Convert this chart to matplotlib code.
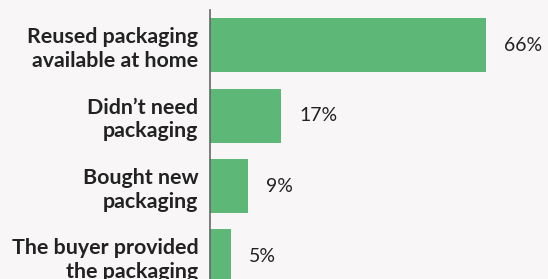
import matplotlib
matplotlib.use("Agg")
import matplotlib.pyplot as plt

categories = ["Reused packaging\navailable at home", "Didn\u2019t need\npackaging",
              "Bought new\npackaging", "The buyer provided\nthe packaging"]
values = [66, 17, 9, 5]
value_labels = ["66%", "17%", "9%", "5%"]

bg = "#f8f6f6"
green = "#5db878"
text_color = "#222222"

fig = plt.figure(figsize=(5.48, 2.79), dpi=100, facecolor=bg)
W, H = 548, 279
ax = fig.add_axes([210 / W, 0, (548 - 210) / W, (279 - 10) / H])
ax.set_facecolor(bg)
y = list(range(len(categories)))
ax.barh(y, values, height=0.766, color=green)
ax.set_xlim(0, 338 / 4.18)
ax.set_ylim(3.32, -0.5)
for s in ["top", "right", "bottom"]:
    ax.spines[s].set_visible(False)
ax.spines["left"].set_color("#666666")
ax.spines["left"].set_linewidth(1.2)
ax.set_xticks([])
ax.set_yticks(y)
ax.set_yticklabels(categories, fontsize=15.4, fontweight="bold", color=text_color,
                   family="Lato", linespacing=1.24)
ax.tick_params(axis="y", length=0, pad=8.5)
for yi, v, lab in zip(y, values, value_labels):
    ax.annotate(lab, (v, yi), xytext=(18, 0), textcoords="offset pixels",
                va="center", ha="left", fontsize=14, color=text_color, family="Lato")
fig.savefig("out.png", dpi=100, facecolor=bg)
